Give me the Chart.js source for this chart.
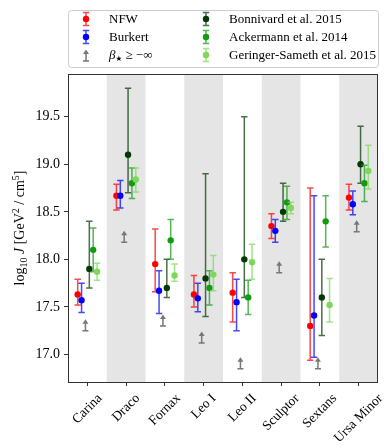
<!DOCTYPE html>
<html>
<head>
<meta charset="utf-8">
<script src="https://cdn.jsdelivr.net/npm/chart.js@4.4.1/dist/chart.umd.min.js"></script>
<style>
  html, body { margin: 0; padding: 0; background: #fff; }
  canvas { display: block; }
</style>
</head>
<body>
<canvas id="jfactor" width="387" height="448"></canvas>
<script>
// Galaxies along the x axis
const categories = ['Carina', 'Draco', 'Fornax', 'Leo I', 'Leo II', 'Sculptor', 'Sextans', 'Ursa Minor'];
const yTicks = [17.0, 17.5, 18.0, 18.5, 19.0, 19.5];

// log10 J values with lower / upper error bounds
const nfw = [17.63, 18.67, 17.95, 17.63, 17.65, 18.35, 17.30, 18.65];
const nfwLo = [17.52, 18.52, 17.66, 17.50, 17.34, 18.22, 16.94, 18.52];
const nfwHi = [17.79, 18.79, 18.32, 17.83, 17.86, 18.48, 18.75, 18.79];

const burkert = [17.57, 18.67, 17.67, 17.59, 17.55, 18.30, 17.41, 18.58];
const burkertLo = [17.44, 18.54, 17.43, 17.45, 17.25, 18.18, 16.97, 18.47];
const burkertHi = [17.75, 18.83, 17.88, 17.75, 17.79, 18.42, 18.67, 18.72];

// lower limits for beta >= -inf
const betaLimit = [17.25, 18.18, 17.30, 17.12, 16.85, 17.86, 16.85, 18.29];

const bonnivard = [17.90, 19.10, 17.70, 17.80, 18.00, 18.50, 17.60, 19.00];
const bonnivardLo = [17.70, 18.70, 17.60, 17.40, 17.60, 18.40, 17.20, 18.80];
const bonnivardHi = [18.40, 19.80, 18.00, 18.90, 19.50, 18.80, 18.00, 19.40];

const ackermann = [18.10, 18.80, 18.20, 17.70, 17.60, 18.60, 18.40, 18.80];
const ackermannLo = [17.87, 18.64, 18.00, 17.52, 17.42, 18.42, 18.13, 18.61];
const ackermannHi = [18.33, 18.96, 18.42, 17.88, 17.78, 18.77, 18.67, 18.99];

const geringer = [17.87, 18.84, 17.83, 17.84, 17.97, 18.54, 17.52, 18.93];
const geringerLo = [17.78, 18.71, 17.77, 17.67, 17.79, 18.48, 17.34, 18.74];
const geringerHi = [17.96, 18.96, 17.95, 18.04, 18.16, 18.60, 17.80, 19.20];

const SERIF = '"Liberation Serif", "Times New Roman", serif';

// series setup: colour and horizontal shift inside each category
const series = [
  { label: 'NFW', color: '#ff0000', shift: -0.25, val: nfw, lo: nfwLo, hi: nfwHi },
  { label: 'Burkert', color: '#0000ff', shift: -0.15, val: burkert, lo: burkertLo, hi: burkertHi },
  { label: 'beta', color: '#777777', shift: -0.05, val: betaLimit, arrow: true },
  { label: 'Bonnivard et al. 2015', color: '#033a03', shift: 0.05, val: bonnivard, lo: bonnivardLo, hi: bonnivardHi },
  { label: 'Ackermann et al. 2014', color: '#129a12', shift: 0.15, val: ackermann, lo: ackermannLo, hi: ackermannHi },
  { label: 'Geringer-Sameth et al. 2015', color: '#7dd85a', shift: 0.25, val: geringer, lo: geringerLo, hi: geringerHi }
];

const datasets = series.map((s, k) => ({
  label: s.label,
  data: s.val.map((v, i) => ({ x: i + s.shift, y: v })),
  backgroundColor: s.color,
  borderWidth: 0,
  pointRadius: s.arrow ? 0 : 3.2,
  order: series.length - k,
  lo: s.lo,
  hi: s.hi,
  arrow: !!s.arrow,
  color: s.color
}));

// draw a run of text pieces (with sub/superscripts) starting at x
function richWidth(ctx, parts) {
  let w = 0;
  parts.forEach(p => { ctx.font = p.font; w += ctx.measureText(p.t).width; });
  return w;
}
function drawRich(ctx, parts, x, y) {
  parts.forEach(p => {
    ctx.font = p.font;
    ctx.fillText(p.t, x, y + (p.dy || 0));
    x += ctx.measureText(p.t).width;
  });
}

function drawArrow(ctx, x, yb, color) {
  ctx.save();
  ctx.strokeStyle = color;
  ctx.fillStyle = color;
  ctx.lineWidth = 1.5;
  ctx.beginPath();
  ctx.moveTo(x - 3, yb); ctx.lineTo(x + 3, yb);
  ctx.moveTo(x, yb); ctx.lineTo(x, yb - 8);
  ctx.stroke();
  ctx.beginPath();
  ctx.moveTo(x - 3, yb - 7); ctx.lineTo(x + 3, yb - 7); ctx.lineTo(x, yb - 11.5);
  ctx.closePath();
  ctx.fill();
  ctx.restore();
}

function drawErrorBar(ctx, x, yTop, yBot, color, alpha) {
  ctx.save();
  ctx.globalAlpha = alpha;
  ctx.strokeStyle = color;
  ctx.lineWidth = 1.5;
  ctx.beginPath();
  ctx.moveTo(x, yTop); ctx.lineTo(x, yBot);
  ctx.moveTo(x - 3.2, yTop); ctx.lineTo(x + 3.2, yTop);
  ctx.moveTo(x - 3.2, yBot); ctx.lineTo(x + 3.2, yBot);
  ctx.stroke();
  ctx.restore();
}

const plotExtras = {
  id: 'plotExtras',
  beforeDatasetsDraw(chart) {
    // shaded bands behind every second galaxy
    const { ctx, chartArea: a, scales: { x } } = chart;
    ctx.save();
    ctx.fillStyle = '#e5e5e5';
    categories.forEach((c, i) => {
      if (i % 2 === 1) {
        const l = Math.max(a.left, x.getPixelForValue(i - 0.5));
        const r = Math.min(a.right, x.getPixelForValue(i + 0.5));
        ctx.fillRect(l, a.top, r - l, a.bottom - a.top);
      }
    });
    ctx.restore();
  },
  beforeDatasetDraw(chart, args) {
    const ds = chart.data.datasets[args.index];
    const { ctx, scales: { x, y } } = chart;
    ds.data.forEach((p, i) => {
      const px = x.getPixelForValue(p.x);
      if (ds.arrow) {
        drawArrow(ctx, px, y.getPixelForValue(p.y), ds.color);
      } else {
        drawErrorBar(ctx, px, y.getPixelForValue(ds.hi[i]), y.getPixelForValue(ds.lo[i]), ds.color, 0.72);
      }
    });
  },
  afterDatasetsDraw(chart) {
    const { ctx, chartArea: a, scales: { x } } = chart;
    ctx.save();
    // frame
    ctx.strokeStyle = '#333';
    ctx.lineWidth = 1;
    ctx.strokeRect(a.left + 0.5, a.top + 0.5, a.right - a.left - 1, a.bottom - a.top);

    // rotated galaxy names, centred under each tick
    ctx.fillStyle = '#000';
    ctx.font = '13.5px ' + SERIF;
    ctx.textAlign = 'center';
    ctx.textBaseline = 'middle';
    categories.forEach((c, i) => {
      const w = ctx.measureText(c).width;
      const h = 12;
      const side = (w + h) / Math.SQRT2;
      const cx = x.getPixelForValue(i);
      const cy = a.bottom + 10 + side / 2;
      ctx.save();
      ctx.translate(cx, cy);
      ctx.rotate(-Math.PI / 4);
      ctx.fillText(c, 0, 0);
      ctx.restore();
    });

    // y axis title
    const big = '14px ' + SERIF, small = '10px ' + SERIF, ital = 'italic 14px ' + SERIF;
    const ylab = [
      { t: 'log', font: big }, { t: '10', font: small, dy: 3 }, { t: ' ', font: big },
      { t: 'J', font: ital }, { t: ' [GeV', font: big }, { t: '2', font: small, dy: -5 },
      { t: ' / cm', font: big }, { t: '5', font: small, dy: -5 }, { t: ']', font: big }
    ];
    ctx.textAlign = 'left';
    ctx.textBaseline = 'alphabetic';
    ctx.save();
    ctx.translate(24, (a.top + a.bottom) / 2);
    ctx.rotate(-Math.PI / 2);
    drawRich(ctx, ylab, -richWidth(ctx, ylab) / 2, 0);
    ctx.restore();

    // legend box
    const lx = 68, ly = 10, lw = 310, lh = 57;
    ctx.beginPath();
    ctx.roundRect(lx + 0.5, ly + 0.5, lw, lh, 3);
    ctx.fillStyle = 'rgba(255,255,255,0.85)';
    ctx.fill();
    ctx.strokeStyle = '#cccccc';
    ctx.lineWidth = 1;
    ctx.stroke();

    const rows = [19, 37, 55];
    const cols = [{ mx: 86, tx: 109 }, { mx: 206, tx: 229 }];
    ctx.font = '13px ' + SERIF;
    series.forEach((s, k) => {
      const col = cols[Math.floor(k / 3)];
      const ry = rows[k % 3];
      if (s.arrow) {
        drawArrow(ctx, col.mx, ry + 6, s.color);
      } else {
        drawErrorBar(ctx, col.mx, ry - 6.5, ry + 6.5, s.color, 0.72);
        ctx.beginPath();
        ctx.arc(col.mx, ry, 3.2, 0, Math.PI * 2);
        ctx.fillStyle = s.color;
        ctx.fill();
      }
      ctx.fillStyle = '#000';
      ctx.textBaseline = 'middle';
      if (s.arrow) {
        drawRich(ctx, [
          { t: 'β', font: 'italic 13px ' + SERIF },
          { t: '★', font: '7.5px "DejaVu Sans"', dy: 3 },
          { t: ' ≥ −∞', font: '13px ' + SERIF }
        ], col.tx, ry + 1);
      } else {
        ctx.font = '13px ' + SERIF;
        ctx.fillText(s.label, col.tx, ry + 1);
      }
    });
    ctx.restore();
  }
};

new Chart(document.getElementById('jfactor'), {
  type: 'scatter',
  data: { datasets },
  options: {
    responsive: false,
    animation: false,
    devicePixelRatio: 1,
    events: [],
    layout: { padding: { top: 74, right: 9, bottom: 0, left: 0 } },
    plugins: { legend: { display: false }, tooltip: { enabled: false } },
    scales: {
      x: {
        type: 'linear',
        min: -0.5,
        max: 7.5,
        afterBuildTicks: scale => { scale.ticks = categories.map((c, i) => ({ value: i })); },
        afterFit: scale => { scale.height = 66; },
        grid: { display: true, drawOnChartArea: false, drawTicks: true, tickLength: 4, tickColor: '#333' },
        border: { display: false },
        ticks: { display: false }
      },
      y: {
        min: 16.71,
        max: 19.95,
        afterBuildTicks: scale => { scale.ticks = yTicks.map(v => ({ value: v })); },
        afterFit: scale => { scale.width = 68; },
        grid: { display: true, drawOnChartArea: false, drawTicks: true, tickLength: 4, tickColor: '#333' },
        border: { display: false },
        ticks: {
          padding: 4,
          color: '#000',
          font: { family: SERIF, size: 14 },
          callback: v => v.toFixed(1)
        }
      }
    }
  },
  plugins: [plotExtras]
});
</script>
</body>
</html>
